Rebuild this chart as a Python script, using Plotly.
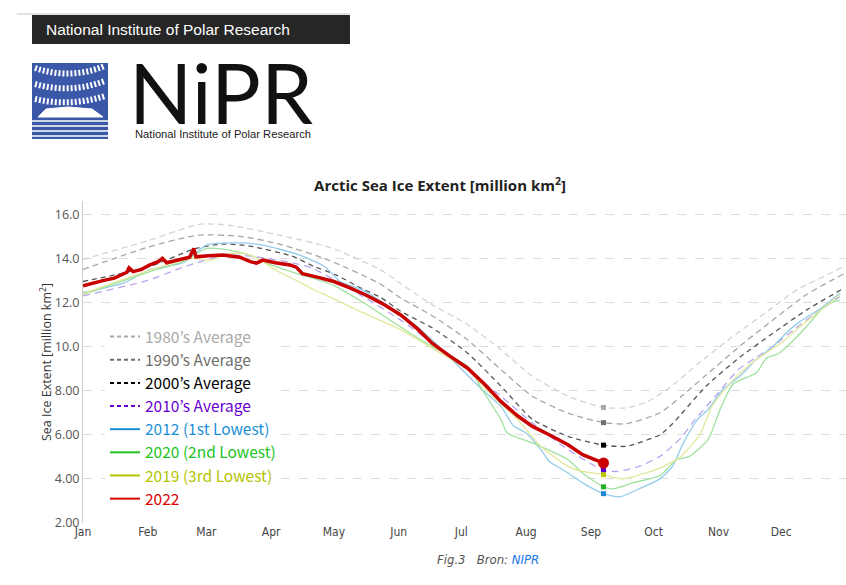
import plotly.graph_objects as go

# ---------------- data (day of year, million km2) ----------------
month_days = [0, 31, 59, 90, 120, 151, 181, 212, 243, 273, 304, 334]
month_names = ["Jan", "Feb", "Mar", "Apr", "May", "Jun", "Jul", "Aug", "Sep", "Oct", "Nov", "Dec"]
y_ticks = [2, 4, 6, 8, 10, 12, 14, 16]
y_ticktext = ["2.00", "4.00", "6.00", "8.00", "10.0", "12.0", "14.0", "16.0"]

avg1980_days = [0, 31, 56, 70, 94, 118, 142, 152, 167, 184, 200, 215, 232, 249, 260, 270, 280, 294, 310, 326, 342, 355, 364]
avg1980_vals = [13.95, 14.8, 15.55, 15.5, 15.05, 14.5, 13.5, 12.85, 11.9, 11.0, 9.85, 8.65, 7.75, 7.24, 7.22, 7.5, 8.1, 9.2, 10.4, 11.5, 12.6, 13.2, 13.65]

avg1990_days = [0, 31, 55, 75, 94, 118, 142, 152, 167, 184, 200, 215, 232, 249, 260, 276, 287, 298, 314, 330, 346, 364]
avg1990_vals = [13.5, 14.5, 15.05, 15.0, 14.65, 13.9, 12.85, 12.2, 11.4, 10.3, 8.95, 7.75, 6.98, 6.55, 6.5, 7.0, 7.8, 8.7, 10.0, 11.2, 12.35, 13.3]

avg2000_days = [0, 31, 54, 67, 80, 100, 110, 121, 134, 142, 152, 167, 184, 200, 215, 232, 249, 260, 276, 282, 298, 314, 330, 346, 364]
avg2000_vals = [12.95, 13.6, 14.45, 14.65, 14.55, 14.1, 13.65, 13.25, 12.6, 12.25, 11.6, 10.85, 9.7, 8.2, 6.7, 5.93, 5.53, 5.48, 6.0, 6.5, 8.2, 9.5, 10.6, 11.65, 12.65]

avg2010_days = [0, 31, 48, 68, 80, 100, 110, 134, 152, 184, 200, 215, 232, 249, 256, 266, 276, 286, 292, 303, 314, 322, 330, 340, 349, 362]
avg2010_vals = [12.3, 13.0, 13.6, 14.15, 14.1, 13.8, 13.54, 12.26, 11.2, 8.95, 7.74, 6.53, 5.33, 4.39, 4.34, 4.57, 5.02, 5.85, 6.6, 7.8, 9.0, 9.5, 10.0, 10.76, 11.4, 12.26]

y2012_days = [0, 20, 32, 48, 59, 75, 86, 102, 110, 116, 123, 134, 156, 167, 175, 191, 200, 206, 212, 219, 223, 232, 239, 249, 257, 266, 276, 282, 287, 294, 299, 306, 314, 322, 330, 338, 343, 353, 362]
y2012_vals = [12.45, 12.9, 13.5, 13.8, 14.6, 14.7, 14.6, 14.2, 13.9, 13.6, 12.95, 12.55, 11.2, 10.3, 9.55, 8.04, 7.28, 6.4, 6.08, 5.33, 4.8, 4.27, 3.82, 3.33, 3.19, 3.55, 4.0, 4.57, 5.6, 6.7, 7.14, 8.04, 8.64, 9.4, 10.0, 10.76, 11.13, 11.74, 12.42]

y2020_days = [0, 32, 48, 59, 68, 80, 90, 102, 115, 121, 134, 150, 167, 184, 191, 200, 203, 215, 232, 239, 249, 254, 263, 276, 284, 290, 299, 305, 311, 322, 327, 333, 340, 346, 353, 357, 362]
y2020_vals = [12.35, 13.4, 13.85, 14.45, 14.4, 14.15, 13.7, 13.32, 12.95, 12.72, 12.0, 11.0, 10.0, 9.1, 8.04, 6.68, 6.08, 5.63, 4.87, 4.27, 3.64, 3.55, 3.82, 4.15, 4.87, 5.02, 5.78, 7.2, 8.3, 8.8, 9.47, 9.7, 10.3, 10.9, 11.66, 11.96, 12.11]

y2019_days = [0, 32, 52, 61, 70, 78, 86, 92, 102, 110, 118, 131, 152, 167, 184, 196, 208, 219, 232, 239, 249, 258, 276, 286, 295, 301, 311, 322, 335, 343, 353, 362]
y2019_vals = [12.4, 13.47, 14.0, 13.92, 14.22, 14.2, 13.85, 13.47, 13.0, 12.6, 12.25, 11.66, 10.76, 9.93, 8.95, 7.74, 6.68, 5.48, 4.57, 4.34, 4.19, 4.0, 4.49, 5.02, 6.0, 7.3, 8.49, 9.4, 10.23, 10.9, 11.66, 12.34]

y2022_days = [0, 5, 10, 15, 21, 22, 24, 28, 32, 36, 38, 40, 46, 51, 53, 54, 60, 67, 75, 80, 83, 86, 92, 99, 102, 105, 112, 120, 128, 135, 143, 152, 160, 167, 175, 184, 192, 200, 208, 215, 223, 232, 239, 249]
y2022_vals = [12.76, 12.9, 13.0, 13.1, 13.37, 13.57, 13.4, 13.5, 13.7, 13.85, 14.0, 13.8, 13.95, 14.05, 14.45, 14.07, 14.12, 14.15, 14.05, 13.85, 13.78, 13.92, 13.8, 13.7, 13.6, 13.3, 13.15, 12.95, 12.65, 12.35, 11.96, 11.43, 10.8, 10.15, 9.6, 9.02, 8.3, 7.5, 6.85, 6.38, 6.0, 5.55, 5.1, 4.72]

current_day = 249  # latest 2022 observation (early September)

# ---------------- styling ----------------
series = [
    # name, days, vals, plot colour, legend colour, dash, width, marker colour
    ("1980’s Average", avg1980_days, avg1980_vals, "#d3d3d3", "#a9a9a9", "6px,4px", 1.3, "#a9a9a9"),
    ("1990’s Average", avg1990_days, avg1990_vals, "#a6a6a6", "#6e6e6e", "6px,4px", 1.3, "#707070"),
    ("2000’s Average", avg2000_days, avg2000_vals, "#555555", "#000000", "5px,4px", 1.3, "#000000"),
    ("2010’s Average", avg2010_days, avg2010_vals, "#b9a3ef", "#6a00d0", "7px,5px", 1.3, "#5a00cc"),
    ("2012 (1st Lowest)", y2012_days, y2012_vals, "#94cbea", "#1b8fd6", "solid", 1.3, "#1a8ad4"),
    ("2020 (2nd Lowest)", y2020_days, y2020_vals, "#9fe29f", "#22c422", "solid", 1.3, "#22b022"),
    ("2019 (3rd Lowest)", y2019_days, y2019_vals, "#e3e89b", "#b4c400", "solid", 1.3, "#b8c800"),
    ("2022", y2022_days, y2022_vals, "#c80000", "#dd0000", "solid", 3.5, "#c80000"),
]

fig = go.Figure()

for name, d, v, col, lcol, dash, w, mcol in series:
    is_2022 = name == "2022"
    fig.add_trace(go.Scatter(
        x=d, y=v, mode="lines", showlegend=False, legendgroup=name,
        line=dict(color=col, width=w, dash=dash,
                  shape="linear" if is_2022 else "spline", smoothing=0.6),
        hoverinfo="skip"))

# markers at the current date
for name, d, v, col, lcol, dash, w, mcol in series:
    if current_day in d:
        i = d.index(current_day)
        is_2022 = name == "2022"
        fig.add_trace(go.Scatter(
            x=[d[i]], y=[v[i]], mode="markers", showlegend=False, legendgroup=name,
            marker=dict(color=mcol, size=11 if is_2022 else 5,
                        symbol="circle" if is_2022 else "square", line=dict(width=0))))

# legend entries with full-strength colours
for name, d, v, col, lcol, dash, w, mcol in series:
    fig.add_trace(go.Scatter(
        x=[None], y=[None], mode="lines", legendgroup=name,
        name=f"<span style='color:{lcol}'>{name}</span>",
        line=dict(color=lcol, width=2, dash="4px,3px" if dash != "solid" else "solid")))

# ---------------- layout helpers (pixel -> paper) ----------------
PL, PR, PT, PB = 83, 846, 201, 523

def fx(p):
    return (p - PL) / (PR - PL)

def fy(p):
    return (PB - p) / (PB - PT)

shapes = []
annotations = []

# header bar
shapes.append(dict(type="line", xref="paper", yref="paper", x0=fx(17), x1=fx(350), y0=fy(14), y1=fy(14),
                   line=dict(color="#e3e3e3", width=2)))
shapes.append(dict(type="rect", xref="paper", yref="paper", x0=fx(32), x1=fx(350), y0=fy(44), y1=fy(15),
                   fillcolor="#262626", line=dict(width=0)))
annotations.append(dict(text="National Institute of Polar Research", xref="paper", yref="paper",
                        x=fx(44), y=fy(29.5), xanchor="left", yanchor="middle", showarrow=False,
                        font=dict(family="Liberation Sans, Arial", size=15.5, color="#ffffff")))

# logo
shapes.append(dict(type="rect", xref="paper", yref="paper", x0=fx(32), x1=fx(108), y0=fy(139), y1=fy(63),
                   fillcolor="#3a57a8", line=dict(width=0)))
for (y0, ym, y1) in [(68, 80, 66), (84, 94, 81), (99, 107, 96)]:
    path = f"M {fx(35)},{fy(y0)} Q {fx(70)},{fy(ym)} {fx(105)},{fy(y1)}"
    shapes.append(dict(type="path", xref="paper", yref="paper", path=path,
                       line=dict(color="#ffffff", width=6, dash="2px,2px")))
glacier = (f"M {fx(38)},{fy(117)} L {fx(46)},{fy(109)} L {fx(68)},{fy(107)} L {fx(92)},{fy(109)} "
           f"L {fx(103)},{fy(117)} Z")
shapes.append(dict(type="path", xref="paper", yref="paper", path=glacier,
                   fillcolor="#ffffff", line=dict(color="#ffffff", width=1)))
for yl in [121, 126, 131, 136]:
    shapes.append(dict(type="line", xref="paper", yref="paper", x0=fx(32), x1=fx(108), y0=fy(yl), y1=fy(yl),
                       line=dict(color="#ffffff", width=1.6)))

annotations.append(dict(text="NiPR", xref="paper", yref="paper", x=fx(127), y=fy(92),
                        xanchor="left", yanchor="middle", showarrow=False,
                        font=dict(family="Lato, Open Sans", size=83, color="#111111", weight=400)))
annotations.append(dict(text="National Institute of Polar Research", xref="paper", yref="paper",
                        x=fx(133), y=fy(134), xanchor="left", yanchor="middle", showarrow=False,
                        font=dict(family="Liberation Sans, Arial", size=11.2, color="#222222")))

# caption
annotations.append(dict(text="<i>Fig.3   Bron: <span style='color:#1a73e8'>NIPR</span></i>",
                        xref="paper", yref="paper", x=fx(488), y=fy(559),
                        xanchor="center", yanchor="middle", showarrow=False,
                        font=dict(family="Liberation Sans Narrow, DejaVu Sans Condensed, Roboto", size=13,
                                  color="#555555")))

fig.update_layout(
    width=846, height=585,
    margin=dict(l=PL, r=846 - PR, t=PT, b=585 - PB),
    paper_bgcolor="#ffffff", plot_bgcolor="#ffffff",
    title=dict(text="<b>Arctic Sea Ice Extent [million km<sup>2</sup>]</b>",
               xref="paper", x=fx(440), xanchor="center",
               yref="container", y=1 - 186 / 585, yanchor="middle",
               font=dict(family="Open Sans, Noto Sans", size=15, color="#222222")),
    xaxis=dict(range=[0, 365], tickvals=month_days, ticktext=month_names,
               showgrid=False, showline=False, zeroline=False, ticks="",
               tickfont=dict(family="Liberation Sans Narrow, DejaVu Sans Condensed, Roboto", size=12,
                             color="#444444")),
    yaxis=dict(range=[2, 16.6], tickvals=y_ticks, ticktext=y_ticktext,
               showgrid=True, gridcolor="#dcdcdc", griddash="dash", gridwidth=1,
               showline=True, linecolor="#cccccc", linewidth=1, zeroline=False, ticks="",
               tickfont=dict(family="Open Sans, Noto Sans", size=12.5, color="#555555"),
               title=dict(text="Sea Ice Extent [million km<sup>2</sup>]", standoff=0,
                          font=dict(family="Open Sans, Noto Sans", size=12.5, color="#333333"))),
    legend=dict(x=fx(105), y=fy(320), xanchor="left", yanchor="top",
                bgcolor="#ffffff", borderwidth=0, itemwidth=30,
                font=dict(family="Noto Sans CJK JP", size=15.5, color="#333333"),
                traceorder="normal"),
    shapes=shapes,
    annotations=annotations,
    showlegend=True,
)

fig.write_html("out.html")
